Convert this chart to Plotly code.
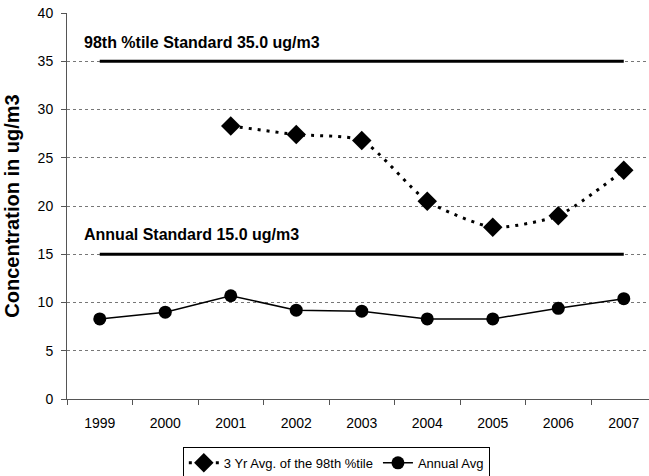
import plotly.graph_objects as go

years = ["1999", "2000", "2001", "2002", "2003", "2004", "2005", "2006", "2007"]
avg98_years = ["2001", "2002", "2003", "2004", "2005", "2006", "2007"]
avg98_values = [28.3, 27.4, 26.8, 20.5, 17.8, 19.0, 23.7]
annual_values = [8.3, 9.0, 10.7, 9.2, 9.1, 8.3, 8.3, 9.4, 10.4]
std98 = 35.0
std_annual = 15.0
y_ticks = [0, 5, 10, 15, 20, 25, 30, 35, 40]

FONT = "Liberation Sans, Arial, sans-serif"

fig = go.Figure()

fig.add_trace(go.Scatter(
    x=years, y=[std98] * len(years), mode="lines",
    line=dict(color="black", width=3), showlegend=False, hoverinfo="skip"))
fig.add_trace(go.Scatter(
    x=years, y=[std_annual] * len(years), mode="lines",
    line=dict(color="black", width=3), showlegend=False, hoverinfo="skip"))

fig.add_trace(go.Scatter(
    x=avg98_years, y=avg98_values, mode="lines+markers",
    name="3 Yr Avg. of the 98th %tile",
    line=dict(color="black", width=3, dash="3px,6px", shape="spline", smoothing=0.6),
    marker=dict(symbol="diamond", size=15, color="black")))
fig.add_trace(go.Scatter(
    x=years, y=annual_values, mode="lines+markers",
    name="Annual Avg",
    line=dict(color="black", width=1.5),
    marker=dict(symbol="circle", size=13, color="black")))

fig.add_annotation(x=0, xref="paper", xshift=15, y=36.9, yref="y",
                   text="<b>98th %tile Standard 35.0 ug/m3</b>", showarrow=False,
                   xanchor="left", yanchor="middle",
                   font=dict(family=FONT, size=16, color="black"))
fig.add_annotation(x=0, xref="paper", xshift=15, y=17.0, yref="y",
                   text="<b>Annual Standard 15.0 ug/m3</b>", showarrow=False,
                   xanchor="left", yanchor="middle",
                   font=dict(family=FONT, size=16, color="black"))

fig.update_layout(
    width=649, height=476,
    margin=dict(l=67, r=0, t=13, b=77, autoexpand=False),
    paper_bgcolor="white", plot_bgcolor="white",
    font=dict(family=FONT, size=14, color="black"),
    legend=dict(orientation="h", x=0.199, xanchor="left", y=-0.124, yanchor="top",
                bordercolor="black", borderwidth=1, font=dict(size=13),
                bgcolor="white", itemwidth=30, tracegroupgap=0),
    xaxis=dict(type="category", categoryorder="array", categoryarray=years,
               range=[-0.5, 8.385], tickson="boundaries", automargin=False,
               ticks="outside", ticklen=5, tickcolor="#555",
               showline=True, linecolor="#555", linewidth=1,
               showgrid=False, ticklabelstandoff=11,
               tickfont=dict(size=14)),
    yaxis=dict(range=[0, 40], tickvals=y_ticks, automargin=False,
               ticks="outside", ticklen=5, tickcolor="#555",
               showline=True, linecolor="#555", linewidth=1,
               showgrid=True, gridcolor="#777", griddash="dot", gridwidth=1,
               zeroline=False, ticklabelstandoff=5,
               title=dict(text="<b>Concentration in ug/m3</b>",
                          font=dict(size=20), standoff=12),
               tickfont=dict(size=14)),
)

fig.write_html("out.html", config={"displayModeBar": False},
               post_script="document.body.style.margin='0';document.body.style.overflow='hidden';")
